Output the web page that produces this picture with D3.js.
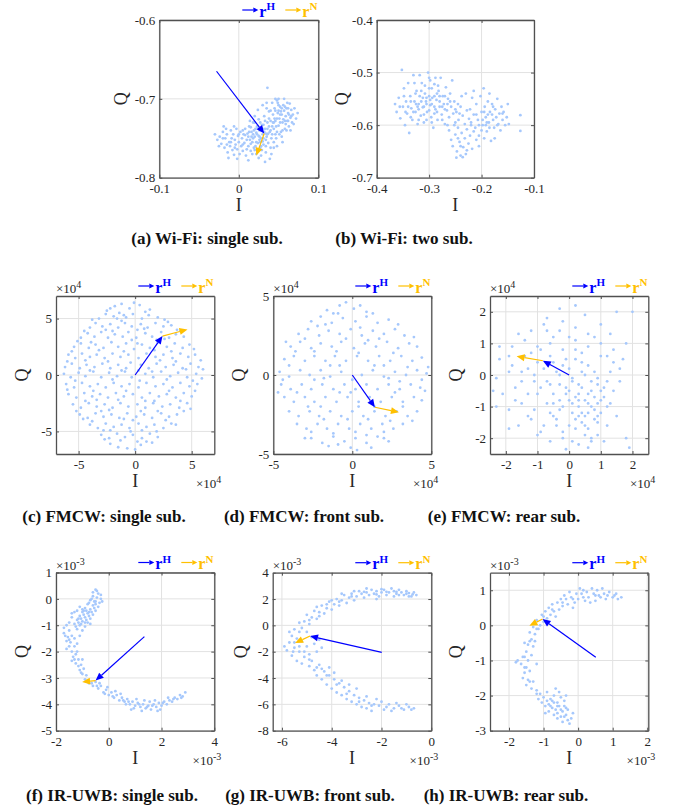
<!DOCTYPE html>
<html>
<head>
<meta charset="utf-8">
<script src="https://cdn.jsdelivr.net/npm/d3@7"></script>
<style>
body { margin: 0; background: #fff; }
svg text { font-family: "Liberation Serif", "Times New Roman", serif; }
</style>
</head>
<body>
<div id="fig"></div>
<script>
// ---- data (flat x,y pairs) ----
// (a) Wi-Fi single sub, values in 1e-3
var ptsA = [-30,-745,-27,-752,-24,-748,-22,-757,-20,-742,-18,-762,-17,-750,-15,-745,-14,-768,-12,-755,-11,-760,-10,-740,-9,-750,-8,-765,-7,-745,-6,-771,-5,-752,-4,-758,-3,-738,-2,-764,-1,-747,0,-755,1,-770,2,-742,3,-760,4,-750,5,-766,6,-745,7,-756,8,-738,9,-772,10,-752,-25,-760,-19,-735,-13,-775,-16,-738,-6,-735,-2,-776,12,-778,5,-740,
11,-744,12,-760,13,-735,14,-752,15,-766,16,-742,17,-755,18,-730,19,-762,20,-748,21,-738,22,-770,23,-745,24,-756,25,-726,26,-740,27,-762,28,-750,29,-733,30,-745,31,-758,32,-722,33,-738,34,-768,35,-748,36,-730,37,-756,38,-716,39,-742,40,-762,14,-728,17,-770,20,-722,23,-735,26,-752,29,-765,32,-742,35,-712,38,-735,41,-750,16,-748,19,-740,22,-755,25,-747,28,-740,31,-733,34,-752,37,-744,40,-728,24,-736,27,-730,30,-754,33,-728,36,-745,21,-760,18,-750,15,-736,12,-748,28,-772,33,-780,25,-775,35,-705,36,-686,30,-708,24,-714,20,-730,
42,-705,43,-720,44,-738,45,-712,46,-728,47,-750,48,-702,49,-718,50,-734,51,-725,52,-710,53,-742,54,-720,55,-730,56,-708,57,-715,58,-738,59,-722,60,-712,61,-728,62,-718,63,-735,64,-706,65,-724,66,-714,67,-730,68,-720,70,-712,72,-725,74,-718,42,-745,44,-755,46,-700,48,-742,50,-715,52,-730,54,-748,56,-726,58,-710,60,-740,62,-728,45,-725,47,-735,49,-705,51,-745,53,-716,55,-740,57,-700,59,-732,61,-705,63,-720,44,-762,48,-760,41,-770,39,-776,55,-755,65,-740,69,-732,50,-700,43,-730,
22,-743,26,-748,30,-738,34,-744,27,-755,31,-750,18,-745,36,-738,40,-740,44,-730,48,-725,52,-720,46,-715,50,-708,54,-712,58,-728,62,-712,66,-722,40,-715,38,-725,-20,-750,-10,-755,0,-745,5,-758,10,-764,15,-757,20,-765,-15,-758,-5,-762,8,-746,13,-742,28,-760,34,-760,42,-735,46,-745];

// (b) Wi-Fi two sub, values in 1e-3
var ptsB = [-365,-560,-362,-575,-358,-548,-355,-587,-352,-495,-350,-565,-348,-530,-346,-600,-344,-555,-342,-578,-340,-520,-338,-615,-336,-545,-334,-568,-332,-590,-330,-505,-328,-555,-326,-575,-324,-535,-322,-598,-320,-560,-318,-545,-316,-582,-314,-520,-312,-566,-310,-595,-308,-540,-306,-555,-304,-575,-302,-500,-300,-530,-298,-562,-296,-585,-294,-548,-292,-605,-290,-522,-288,-570,-286,-552,-284,-590,-282,-535,-280,-565,-278,-510,-276,-580,-274,-545,-272,-560,-270,-598,-268,-528,-266,-572,-264,-550,-262,-585,-260,-540,-258,-565,-256,-515,-254,-578,-252,-555,-250,-595,
-320,-570,-315,-555,-310,-565,-305,-548,-300,-572,-295,-560,-290,-545,-285,-575,-280,-555,-310,-580,-300,-545,-290,-565,-330,-575,-325,-560,-335,-585,-315,-535,-305,-590,-295,-530,-285,-540,-275,-565,-320,-590,-340,-565,-345,-575,-298,-515,-308,-525,-318,-505,-288,-510,-328,-520,-270,-545,-265,-560,
-262,-610,-258,-628,-255,-640,-250,-618,-247,-650,-245,-605,-242,-632,-240,-658,-238,-615,-235,-642,-232,-625,-230,-655,-228,-608,-225,-635,-222,-620,-218,-645,-215,-612,-210,-628,-236,-661,-248,-662,-252,-600,
-248,-575,-244,-590,-240,-565,-236,-582,-232,-598,-228,-572,-224,-588,-220,-600,-245,-560,-238,-545,-230,-540,
-222,-570,-220,-595,-218,-548,-215,-580,-212,-605,-210,-560,-207,-590,-205,-620,-202,-545,-200,-575,-198,-600,-196,-530,-194,-565,-192,-585,-190,-612,-188,-555,-186,-595,-184,-575,-182,-630,-180,-560,-178,-590,-176,-605,-174,-570,-172,-585,-170,-550,-168,-598,-166,-578,-164,-610,-162,-565,-160,-590,-158,-575,-155,-600,-152,-585,-150,-560,-148,-598,-195,-625,-200,-610,-185,-540,-205,-640,-175,-625,-215,-535,-198,-590,-192,-600,-188,-580,-126,-581,-126,-611,
-305,-560,-298,-552,-312,-548,-322,-565,-290,-578,-280,-545,-270,-570,-260,-555,-250,-570,-242,-578,-295,-595,-335,-555,-348,-545,-356,-565,-326,-540,-300,-510,-283,-525,-275,-590,-265,-600,-190,-595,-180,-580,-195,-575,-185,-605,-205,-600,-170,-600,-160,-578,-178,-565,-210,-580,-240,-640,-228,-648,-245,-625];

// (c) FMCW single sub, values in 1e4
var ptsC = [-1.8,6.1,-1.2,6.3,-0.5,5.9,0.4,6.2,-2.5,5.7,1.3,5.8,
-3.2,5.0,-2.6,5.4,-1.9,5.2,-1.4,5.5,-0.8,5.1,-0.2,5.4,0.6,5.0,1.2,5.3,2.0,5.1,2.6,4.9,-1.6,5.0,-1.0,5.3,
-4.0,4.2,-3.5,4.6,-2.9,4.3,-2.2,4.5,-1.5,4.2,-0.9,4.6,-0.3,4.3,0.5,4.5,1.1,4.2,1.8,4.6,2.5,4.3,3.2,4.4,3.7,4.0,-2.6,4.0,0.2,4.0,
-4.8,3.3,-4.2,3.7,-3.6,3.4,-3.0,3.8,-2.4,3.3,-1.8,3.6,-1.1,3.4,-0.6,3.8,0.1,3.3,0.9,3.7,1.5,3.4,2.3,3.8,3.0,3.3,3.6,3.6,4.3,3.4,-2.0,3.9,1.9,3.1,
-5.4,2.5,-4.8,2.8,-4.1,2.4,-3.5,2.7,-2.8,2.4,-2.1,2.9,-1.5,2.5,-0.8,2.8,-0.1,2.3,0.6,2.7,1.3,2.4,2.0,2.9,2.8,2.5,3.5,2.8,4.2,2.4,4.8,2.7,-3.2,2.2,1.7,2.2,
-5.9,1.8,-5.3,1.5,-4.7,1.9,-4.0,1.6,-3.4,1.8,-2.7,1.5,-2.0,1.9,-1.3,1.6,-0.6,1.8,0.3,1.5,1.0,1.9,1.8,1.6,2.5,1.8,3.3,1.5,4.0,1.9,4.7,1.6,5.3,1.8,-4.4,1.3,3.6,1.2,
-6.2,0.7,-5.6,1.0,-4.9,0.6,-4.3,0.9,-3.6,0.7,-2.9,1.0,-2.2,0.6,-1.5,0.9,-0.8,0.6,0.5,0.9,1.2,0.6,1.9,1.0,2.7,0.7,3.4,0.9,4.2,0.6,4.9,1.0,5.6,0.7,0.3,0.4,
-6.3,0.1,-5.7,-0.2,-5.0,0.2,-4.4,-0.1,-3.7,0.3,-3.0,-0.2,-2.3,0.2,-1.6,-0.1,-0.9,0.3,-0.3,-0.2,0.9,0.1,1.6,-0.2,2.3,0.3,3.1,-0.1,3.8,0.2,4.6,-0.2,5.4,0.1,5.9,-0.3,
-6.1,-0.8,-5.4,-1.1,-4.7,-0.7,-4.0,-1.0,-3.3,-0.8,-2.6,-1.1,-1.9,-0.7,-1.2,-1.0,-0.5,-0.8,0.3,-1.1,1.0,-0.7,1.8,-1.0,2.5,-0.8,3.3,-1.1,4.0,-0.7,4.8,-1.0,5.5,-0.8,
-5.9,-1.7,-5.2,-2.0,-4.5,-1.6,-3.8,-1.9,-3.1,-1.7,-2.4,-2.0,-1.7,-1.6,-1.0,-1.9,-0.2,-1.7,0.6,-2.0,1.3,-1.6,2.1,-1.9,2.8,-1.7,3.6,-2.0,4.3,-1.6,5.0,-1.9,-3.4,-2.2,1.7,-2.3,
-5.5,-2.6,-4.8,-2.9,-4.1,-2.5,-3.4,-2.8,-2.7,-2.6,-2.0,-2.9,-1.3,-2.5,-0.6,-2.8,0.2,-2.6,0.9,-2.9,1.6,-2.5,2.4,-2.8,3.1,-2.6,3.9,-2.9,4.6,-2.5,-2.3,-3.1,0.5,-3.2,
-4.9,-3.5,-4.2,-3.8,-3.5,-3.4,-2.8,-3.7,-2.1,-3.5,-1.4,-3.8,-0.7,-3.4,0.1,-3.7,0.8,-3.5,1.5,-3.8,2.3,-3.4,3.0,-3.7,3.7,-3.5,4.3,-3.2,-1.0,-3.9,
-4.0,-4.4,-3.3,-4.7,-2.6,-4.3,-1.9,-4.6,-1.2,-4.4,-0.5,-4.7,0.3,-4.3,1.0,-4.6,1.7,-4.4,2.5,-4.7,3.2,-4.3,-2.2,-4.9,0.6,-4.9,
-3.0,-5.3,-2.3,-5.6,-1.6,-5.2,-0.9,-5.5,-0.2,-5.3,0.6,-5.6,1.3,-5.2,2.0,-5.5,-1.3,-5.8,0.2,-5.9,
-2.2,-6.1,-0.7,-6.5,0.5,-6.2,-1.5,-6.4,
-2.2,5.9,0.9,5.6,-0.1,6.4,-3.8,4.9,2.9,4.7,-1.2,4.8,0.8,4.1,-4.5,3.9,4.0,3.9,-0.3,3.1,2.6,3.2,-5.1,3.0,-3.9,2.9,0.2,2.8,3.2,2.1,5.2,2.3,-5.6,2.1,-1.0,2.1,2.2,1.3,-2.4,1.2,5.8,1.3,-6.0,1.2,-0.4,1.1,1.5,0.3,4.5,0.5,-1.2,0.4,-4.0,0.4,6.0,0.5,-5.3,-0.5,-2.0,-0.4,0.4,-0.5,2.8,-0.4,5.1,-0.5,-3.7,-1.4,-0.8,-1.4,3.0,-1.4,5.3,-1.4,-6.0,-1.3,-4.4,-2.3,-1.5,-2.2,0.9,-2.3,4.0,-2.3,-5.2,-3.2,-3.0,-3.2,2.0,-3.2,4.9,-3.0,-3.8,-4.1,-0.2,-4.0,2.7,-4.0,-2.8,-4.9,1.9,-5.0,-0.4,-5.0,1.0,-5.9,-2.7,-5.7,3.6,-4.4,-4.6,-3.9,0.0,-6.6,1.5,-6.0];

// (d) FMCW front sub, values in 1e4
var ptsD = [-1.6,4.1,-0.8,4.4,0.1,4.2,0.9,4.0,-1.2,3.9,0.5,4.4,
-2.6,3.4,-2.0,3.7,-1.3,3.3,-0.6,3.6,0.2,3.4,0.9,3.7,1.6,3.3,2.3,3.5,-1.7,3.2,
-3.4,2.6,-2.8,2.9,-2.1,2.5,-1.5,2.8,-0.8,2.6,-0.1,2.9,0.6,2.5,1.3,2.8,2.0,2.6,2.7,2.9,3.3,2.5,-0.4,2.3,1.0,2.2,
-3.9,1.8,-3.3,2.1,-2.6,1.7,-2.0,2.0,-1.3,1.8,-0.7,2.1,0.1,1.7,0.8,2.0,1.5,1.8,2.2,2.1,2.9,1.7,3.6,2.0,4.1,1.8,-2.4,1.5,0.4,1.4,
-4.3,1.0,-3.7,1.2,-3.0,0.9,-2.4,1.2,-1.7,0.9,-1.1,1.2,-0.4,0.9,0.3,1.2,1.0,0.9,1.7,1.2,2.4,0.9,3.1,1.2,3.8,0.9,4.4,1.1,-1.4,0.6,2.0,0.6,
-4.6,0.2,-4.0,-0.1,-3.3,0.3,-2.7,0.0,-2.0,0.3,-1.4,-0.1,-0.7,0.2,0.6,0.0,1.3,0.3,2.0,-0.1,2.7,0.2,3.4,0.0,4.1,0.3,4.7,0.1,-2.4,-0.3,3.0,-0.4,
-4.5,-0.6,-3.9,-0.9,-3.2,-0.6,-2.6,-0.9,-1.9,-0.6,-1.2,-0.9,-0.5,-0.6,0.2,-0.9,0.9,-0.6,1.6,-0.9,2.3,-0.6,3.0,-0.9,3.7,-0.6,4.3,-0.8,-0.8,-1.1,
-4.3,-1.4,-3.7,-1.7,-3.0,-1.4,-2.4,-1.7,-1.7,-1.4,-1.0,-1.7,-0.3,-1.4,0.4,-1.7,1.1,-1.4,1.8,-1.7,2.5,-1.4,3.2,-1.7,3.9,-1.4,4.4,-1.6,-2.0,-2.0,1.4,-2.0,
-4.0,-2.3,-3.4,-2.6,-2.7,-2.3,-2.1,-2.6,-1.4,-2.3,-0.7,-2.6,0.0,-2.3,0.7,-2.6,1.4,-2.3,2.1,-2.6,2.8,-2.3,3.5,-2.6,4.1,-2.3,-0.3,-2.8,2.4,-2.9,
-3.5,-3.1,-2.9,-3.4,-2.2,-3.1,-1.6,-3.4,-0.9,-3.1,-0.2,-3.4,0.5,-3.1,1.2,-3.4,1.9,-3.1,2.6,-3.4,3.2,-3.1,-1.2,-3.7,0.9,-3.8,
-2.6,-4.0,-1.9,-4.3,-1.2,-3.9,-0.5,-4.2,0.2,-4.0,0.9,-4.3,1.6,-3.9,2.3,-4.2,-0.1,-4.6,-1.5,-4.5,1.2,-4.6,0.3,-4.75,
-0.4,4.6,1.3,3.9,-2.2,3.1,0.5,3.0,2.9,3.2,-3.0,2.3,1.7,2.3,3.9,2.4,-3.6,1.5,-1.0,1.5,2.6,1.4,-4.0,0.6,-0.8,0.6,1.4,0.6,3.5,0.5,-4.4,-0.3,-1.8,-0.2,0.0,-0.3,2.3,-0.2,4.4,-0.3,-3.5,-1.1,-0.1,-1.1,2.7,-1.1,-4.7,-1.1,-2.8,-2.0,0.4,-2.0,3.2,-2.0,-1.8,-2.8,1.0,-2.8,3.8,-2.9,-2.6,-3.6,0.2,-3.6,2.0,-3.6,-0.9,-4.4,2.0,-4.0,4.8,0.5,4.6,-1.0,-4.2,2.1,-3.0,-4.0,-0.9,3.9];

// (e) FMCW rear sub, values in 1e4
var ptsE = [-0.3,2.1,0.5,1.9,-0.7,1.8,0.2,2.2,1.5,2.0,-0.2,1.7,
-1.2,1.4,-0.8,1.6,-0.3,1.4,0.2,1.5,0.6,1.3,1.0,1.6,-1.6,1.3,1.3,1.3,-0.5,1.2,
-1.8,0.9,-1.4,1.1,-1.0,0.9,-0.6,1.0,-0.2,0.8,0.2,1.1,0.6,0.9,1.0,1.0,1.4,0.8,-1.2,0.7,0.4,0.7,1.8,1.0,
-2.2,0.5,-1.8,0.3,-1.4,0.6,-1.0,0.4,-0.6,0.6,-0.2,0.3,0.2,0.5,0.6,0.3,1.0,0.6,1.4,0.4,1.7,0.5,-0.4,0.1,0.8,0.1,
-2.3,-0.1,-1.9,0.1,-1.5,-0.2,-1.1,0.0,-0.7,-0.2,-0.3,0.0,0.1,-0.2,0.5,0.0,0.9,-0.1,1.3,0.1,1.6,-0.2,0.3,-0.3,1.1,-0.4,
-2.1,-0.6,-1.7,-0.4,-1.3,-0.6,-0.9,-0.4,-0.5,-0.6,-0.1,-0.4,0.3,-0.6,0.5,-0.8,0.7,-0.5,1.1,-0.7,1.4,-0.5,0.0,-0.8,0.9,-0.9,0.4,-0.4,
-1.9,-1.1,-1.5,-0.9,-1.1,-1.1,-0.7,-0.9,-0.3,-1.1,0.1,-0.9,0.4,-1.2,0.7,-1.0,1.0,-1.2,1.3,-0.9,-0.5,-1.3,0.2,-1.4,0.8,-1.4,
-1.6,-1.6,-1.2,-1.4,-0.8,-1.6,-0.4,-1.4,0.0,-1.6,0.4,-1.5,0.6,-1.7,0.9,-1.5,1.2,-1.6,-0.2,-1.8,0.5,-1.9,
-1.0,-1.9,-0.6,-2.1,-0.2,-2.0,0.3,-2.2,0.7,-2.0,1.1,-2.1,-0.1,-2.35,0.6,-2.3,1.8,-2.0,-1.9,-1.7,
-2.4,-0.5,2.0,2.0,1.9,-2.3,-2.3,-1.0,-2.2,0.9,
0.2,-0.7,0.6,-0.6,0.9,-0.3,0.3,-1.0,-0.1,-0.6,0.5,-1.3,0.8,-1.1,1.0,-0.8,0.1,-1.2,-0.3,-0.8,-0.6,-0.3,-1.0,-0.6,-0.8,0.2,-1.3,0.2,0.0,0.2,0.4,0.4,0.7,-0.2,1.2,-0.2,-0.4,-1.6,0.2,-1.7,
0.0,-0.5,0.3,-0.8,0.6,-0.9,0.8,-0.7,1.2,-1.0,0.3,-1.3,0.6,-1.2,0.9,-1.3,-0.2,-1.0,-0.5,-0.9,0.1,-0.1,0.4,0.1,-0.1,0.5,-0.5,0.4,-0.9,0.8,0.0,1.2,0.8,1.2,-1.5,0.1,-1.7,-0.8,-1.3,-1.3,-0.9,-1.8,0.1,-2.1,0.9,-1.9,1.5,-1.3,1.6,0.2,1.2,0.6,-0.7,1.4,-1.1,-0.2,0.2,0.8,-0.3,-0.3,1.0,-0.5,0.5,-1.6,-0.6,-1.2,0.7,-2.1,-1.9,0.6];

// (f) IR-UWB single sub, values in 1e-3
var ptsF = [-0.5,0.35,-0.4,0.2,-0.6,0.25,-0.3,0.0,-0.45,0.05,-0.6,0.1,-0.35,-0.15,-0.55,-0.1,-0.7,-0.05,-0.4,-0.3,-0.6,-0.25,-0.8,-0.2,-0.5,-0.45,-0.7,-0.4,-0.9,-0.35,-0.6,-0.6,-0.8,-0.55,-1.0,-0.5,-0.7,-0.75,-0.9,-0.7,-1.1,-0.65,-0.8,-0.9,-1.0,-0.85,-1.2,-0.8,-0.9,-1.05,-1.1,-1.0,-1.3,-0.95,-1.0,-1.2,-1.2,-1.15,-1.4,-0.7,-1.5,-0.9,-1.3,-0.5,-1.1,-0.3,-0.95,-0.6,-0.75,-0.65,-0.85,-0.8,-1.05,-0.95,-0.65,-0.5,-0.5,-0.2,-0.3,0.15,-0.25,-0.1,-0.75,-0.15,-1.2,-0.45,-1.4,-0.55,-0.95,-0.45,-0.7,-0.95,-1.15,-0.75,-0.55,-0.35,
-1.6,-1.0,-1.7,-1.3,-1.5,-1.2,-1.4,-1.4,-1.6,-1.6,-1.3,-1.5,-1.5,-1.8,-1.3,-1.8,-1.4,-2.0,-1.2,-2.0,-1.35,-2.2,-1.15,-2.3,-1.25,-2.45,-1.05,-2.5,-1.1,-2.7,-0.95,-2.65,-1.0,-2.85,-0.85,-2.9,-0.9,-3.05,-1.55,-1.45,-1.45,-1.65,-1.2,-1.7,-1.25,-2.1,-1.4,-2.35,-1.0,-2.3,-0.8,-3.1,-1.1,-1.4,-1.7,-1.1,-1.6,-1.9,
-0.75,-3.2,-0.6,-3.3,-0.5,-3.15,-0.4,-3.4,-0.3,-3.3,-0.2,-3.55,-0.1,-3.45,0.0,-3.65,0.1,-3.55,0.2,-3.75,0.3,-3.65,0.4,-3.85,0.5,-3.75,0.6,-3.9,0.7,-3.8,0.8,-4.0,0.9,-3.9,1.0,-4.05,1.1,-3.95,1.2,-4.1,1.3,-4.0,1.4,-4.15,1.5,-4.05,1.6,-4.2,1.7,-4.0,1.8,-4.1,1.9,-3.95,2.0,-4.05,2.1,-3.9,2.2,-4.0,2.3,-3.85,2.4,-3.9,2.5,-3.75,2.6,-3.8,2.7,-3.65,2.8,-3.7,2.9,-3.55,0.85,-4.2,1.25,-4.25,1.55,-3.9,1.95,-4.2,0.45,-3.6,-0.05,-3.35,1.75,-3.85,1.05,-3.8,2.25,-3.75,-0.35,-3.2,0.25,-3.5,1.35,-3.85,1.85,-4.25,0.65,-4.0,
-0.45,0.3,-0.65,0.0,-0.85,-0.45,-1.05,-0.75,-1.25,-1.05,-0.5,-0.1,-0.75,-0.5,-1.0,-0.4,-0.9,-0.9,-1.15,-0.9,-1.65,-1.4,-1.5,-1.55,-1.3,-2.3,-1.15,-2.55,-1.05,-2.8,-0.65,-3.2,-0.45,-3.3,-0.15,-3.6,0.15,-3.7,0.55,-3.85,0.95,-4.15,1.45,-4.1,1.65,-4.05,2.05,-3.95,2.45,-3.8,2.75,-3.75,0.75,-3.9,1.15,-4.0];

// (g) IR-UWB front sub, values in 1e-3
var ptsG = [-0.6,2.3,-0.7,2.5,-0.8,2.2,-0.9,2.45,-1.0,2.6,-1.1,2.3,-1.2,2.5,-1.3,2.7,-1.4,2.4,-1.5,2.6,-1.6,2.8,-1.7,2.5,-1.8,2.3,-1.9,2.7,-2.0,2.5,-2.1,2.2,-2.2,2.6,-2.3,2.4,-2.4,2.7,-2.5,2.3,-2.6,2.5,-2.7,2.1,-2.8,2.4,-2.9,2.6,-3.0,2.2,-3.1,1.9,-3.2,2.4,-3.3,2.1,-3.4,1.7,-3.5,2.3,-3.6,1.9,-3.7,1.5,-3.8,2.0,-3.9,1.6,-4.0,1.2,-4.1,1.8,-4.2,1.3,-4.3,0.9,-4.4,1.5,-4.5,1.0,-4.6,0.5,-4.7,1.1,-4.8,0.6,-4.9,0.1,-5.0,0.8,-5.1,0.3,-5.2,-0.2,-1.3,2.3,-2.0,2.75,-2.6,2.8,-1.5,2.2,-0.9,2.2,-3.1,2.6,-3.6,2.4,-2.2,2.0,-4.6,1.4,-4.0,1.9,
-5.3,0.2,-5.5,-0.3,-5.6,-0.8,-5.4,-1.0,-5.7,-1.3,-5.2,-1.2,-5.5,-1.7,-5.8,-1.9,-5.3,-2.0,-5.6,-2.3,-5.1,-2.4,-5.4,-2.7,-4.9,-2.2,-5.0,-1.6,-4.8,-0.9,-4.7,-1.4,-5.0,-0.5,-4.6,-2.0,-5.7,-0.5,-5.2,-2.9,-4.8,-2.7,-4.5,-1.1,-4.4,-1.7,-5.9,-1.6,
-4.9,-3.1,-4.7,-3.4,-4.5,-3.0,-4.6,-3.8,-4.3,-3.5,-4.4,-4.1,-4.1,-3.8,-4.2,-4.5,-3.9,-4.1,-4.0,-4.8,-3.7,-4.4,-3.8,-5.1,-3.5,-4.7,-3.6,-5.3,-3.3,-5.0,-3.4,-5.6,-3.1,-5.3,-3.2,-5.8,-2.9,-5.5,-3.0,-6.0,-2.7,-5.7,-2.8,-6.2,-2.5,-5.9,-2.6,-6.3,-2.3,-6.0,-2.4,-6.5,-2.1,-6.1,-1.9,-6.4,-1.7,-6.0,-1.5,-6.3,-1.3,-6.1,-1.1,-6.4,-0.9,-6.2,-0.8,-6.4,-1.0,-6.0,-1.6,-6.5,-2.0,-5.8,-3.9,-3.6,-4.1,-3.2,-3.6,-4.2,-3.0,-4.8,-2.6,-5.4,-2.2,-5.6,-1.4,-5.9,-4.4,-3.3,-3.3,-4.5,
-1.0,2.4,-1.4,2.55,-1.8,2.55,-2.2,2.35,-2.7,2.55,-3.2,2.2,-3.7,1.8,-4.2,1.6,-4.5,0.7,-4.9,0.4,-5.3,-0.5,-5.5,-1.3,-5.3,-1.6,-5.1,-2.0,-4.9,-2.6,-4.6,-3.2,-4.2,-3.8,-3.8,-4.5,-3.4,-5.2,-2.9,-5.8,-2.4,-6.1,-1.8,-6.2,-1.2,-6.3,-0.7,-6.3,-0.75,2.35,-5.55,-2.0];

// (h) IR-UWB rear sub, values in 1e-3
var ptsH = [1.25,0.8,1.15,0.75,1.1,0.9,1.0,0.8,0.9,0.95,0.8,0.75,0.75,0.9,0.7,1.05,0.6,0.85,0.55,1.0,0.5,0.7,0.45,0.9,0.4,1.05,0.3,0.8,0.25,0.95,0.2,0.7,0.1,0.9,0.05,1.05,0.0,0.75,-0.05,0.9,-0.1,0.65,-0.2,0.8,-0.25,0.95,-0.3,0.6,-0.35,0.75,-0.45,0.55,-0.5,0.75,-0.55,0.45,-0.6,0.65,-0.7,0.4,-0.75,0.6,-0.8,0.3,-0.85,0.5,-0.9,0.2,-0.95,0.4,-1.0,0.1,-1.05,0.3,-1.1,0.0,-0.4,0.85,0.15,1.0,0.65,0.8,-0.15,0.5,0.35,0.65,-0.65,0.25,
-1.15,-0.1,-1.2,0.15,-1.25,-0.25,-1.3,-0.05,-1.35,-0.4,-1.4,-0.2,-1.45,-0.55,-1.3,-0.6,-1.5,-0.75,-1.35,-0.85,-1.6,-0.9,-1.45,-1.0,-1.65,-1.1,-1.5,-1.2,-1.75,-1.0,-1.55,-1.35,-1.4,-1.3,-1.6,-1.5,-1.45,-1.55,-1.3,-1.6,-1.5,-1.7,-1.35,-1.8,-1.2,-1.85,-1.8,-1.05,-1.25,-0.45,-1.55,-0.5,-1.2,-1.1,
-1.1,-1.95,-1.0,-2.05,-0.9,-1.9,-0.8,-2.1,-0.7,-2.0,-0.6,-2.2,-0.5,-2.05,-0.4,-2.15,-0.35,-2.0,-1.05,-2.2,-0.95,-2.3,-0.85,-2.25,-0.75,-2.35,-0.65,-2.4,-0.55,-2.3,-0.45,-2.45,-0.4,-2.3,-0.7,-2.55,-0.6,-2.5,-0.5,-2.6,-0.35,-2.55,-0.3,-2.7,-0.2,-2.65,-0.25,-2.8,-0.45,-2.75,-0.85,-2.45,-0.55,-1.9,-0.3,-2.4,-0.75,-2.15,-0.6,-2.65,-1.15,-2.1,-0.95,-2.5,-0.15,-2.5,-0.65,-1.8,
1.05,0.85,0.85,0.85,0.5,0.85,0.15,0.8,-0.15,0.75,-0.45,0.65,-0.75,0.45,-1.0,0.25,-1.2,-0.1,-1.4,-0.45,-1.55,-0.9,-1.55,-1.2,-1.4,-1.6,-1.2,-1.95,-0.9,-2.15,-0.6,-2.3,-0.5,-2.4,-0.4,-2.6,-0.8,-2.3,-0.7,-2.2,-0.35,-2.35];

// arrows: [x0, y0, x1, y1] in the same units as the points
var arrowsH = { a: [-28,-665,32,-744], c: [0,0,2.42,3.45], d: [0,0,1.43,-2.04], e: [0,0,-0.83,0.45],
                f: [1.35,-1.43,-0.5,-3.1], g: [-1.99,-2.05,-4.87,-0.81], h: [0.51,-0.91,-1.03,0.18] };
var arrowsN = { a: [32,-744,22,-772], c: [2.42,3.45,4.63,4.04], d: [1.43,-2.04,2.95,-2.36], e: [-0.83,0.45,-1.66,0.59],
                f: [-0.5,-3.1,-1.01,-3.15], g: [-4.87,-0.81,-5.47,-1.34], h: [-1.03,0.18,-1.41,-0.01] };

var xTicks = { a: [-0.1,0,0.1], b: [-0.4,-0.3,-0.2,-0.1], c: [-5,0,5], d: [-5,0,5], e: [-2,-1,0,1,2],
               f: [-2,0,2,4], g: [-6,-4,-2,0], h: [-2,-1,0,1,2] };
var yTicks = { a: [-0.8,-0.7,-0.6], b: [-0.7,-0.6,-0.5,-0.4], c: [-5,0,5], d: [-5,0,5], e: [-2,-1,0,1,2],
               f: [-5,-4,-3,-2,-1,0,1], g: [-8,-6,-4,-2,0,2,4], h: [-3,-2,-1,0,1] };

var captions = { a: "(a) Wi-Fi: single sub.", b: "(b) Wi-Fi: two sub.",
                 c: "(c) FMCW: single sub.", d: "(d) FMCW: front sub.", e: "(e) FMCW: rear sub.",
                 f: "(f) IR-UWB: single sub.", g: "(g) IR-UWB: front sub.", h: "(h) IR-UWB: rear sub." };

// ---- layout ----
var panels = [
  {key:'a', box:[159.3,20,159,157.7], xdom:[-0.1,0.1], ydom:[-0.8,-0.6], pts:ptsA, k:0.001, exp:null, qOff:39, cap:[207,244]},
  {key:'b', box:[376.7,20,157.3,157.7], xdom:[-0.4,-0.1], ydom:[-0.7,-0.4], pts:ptsB, k:0.001, exp:null, qOff:35, cap:[404,244]},
  {key:'c', box:[56,296,158.3,158], xdom:[-7,7], ydom:[-7,7], pts:ptsC, k:1, exp:'4', qOff:34, cap:[104,522]},
  {key:'d', box:[273.3,296,158,158], xdom:[-5,5], ydom:[-5,5], pts:ptsD, k:1, exp:'4', qOff:35, cap:[304,522]},
  {key:'e', box:[490,296,158.3,158], xdom:[-2.5,2.5], ydom:[-2.5,2.5], pts:ptsE, k:1, exp:'4', qOff:34, cap:[504,522]},
  {key:'f', box:[56,572.5,158.3,158.2], xdom:[-2,4], ydom:[-5,1], pts:ptsF, k:1, exp:'-3', qOff:34, cap:[112,801]},
  {key:'g', box:[272.7,572.7,158.6,158], xdom:[-6.37,0], ydom:[-8,4], pts:ptsG, k:1, exp:'-3', qOff:32, cap:[310,801]},
  {key:'h', box:[490,572.7,158.3,158], xdom:[-2.55,2.03], ydom:[-3,1.5], pts:ptsH, k:1, exp:'-3', qOff:34, cap:[506,801]}
];

var blue = "#0000ff", gold = "#ffc000", dotColor = "#a6c8fc", axisColor = "#505050", textColor = "#262626";

var svg = d3.select("#fig").append("svg")
    .attr("width", 678)
    .attr("height", 810);

function arrow(g, x0, y0, x1, y1, c, len, hw, sw) {
    var dx = x1 - x0, dy = y1 - y0, L = Math.sqrt(dx * dx + dy * dy);
    var ux = dx / L, uy = dy / L;
    var bx = x1 - ux * len, by = y1 - uy * len;
    g.append("line")
        .attr("x1", x0).attr("y1", y0).attr("x2", bx).attr("y2", by)
        .attr("stroke", c).attr("stroke-width", sw);
    g.append("polygon")
        .attr("points", [[x1, y1], [bx - uy * hw, by + ux * hw], [bx + uy * hw, by - ux * hw]].map(function(p) { return p.join(","); }).join(" "))
        .attr("fill", c);
}

function expLabel(g, xx, yy, anchor, e) {
    var t = g.append("text")
        .attr("x", xx).attr("y", yy)
        .attr("text-anchor", anchor)
        .attr("font-size", 13)
        .attr("fill", textColor);
    t.append("tspan").text("×10");
    t.append("tspan").attr("dy", -5).attr("font-size", 10).text(e);
}

function legend(g, R, T) {
    [{c: blue, s: "H", x0: R - 76}, {c: gold, s: "N", x0: R - 33}].forEach(function(it) {
        arrow(g, it.x0, T - 10, it.x0 + 16, T - 10, it.c, 5, 2.5, 1.2);
        var t = g.append("text")
            .attr("x", it.x0 + 17).attr("y", T - 3.5)
            .attr("fill", it.c)
            .attr("font-weight", "bold")
            .attr("font-size", 16);
        t.append("tspan").text("r");
        t.append("tspan").attr("dy", -6.5).attr("font-size", 11).text(it.s);
    });
}

function styleAxis(sel) {
    sel.attr("font-size", 13)
        .attr("font-family", "'Liberation Serif', serif")
        .attr("color", axisColor);
    sel.select(".domain").attr("stroke-width", 1.3);
    sel.selectAll("text").attr("fill", textColor);
}

panels.forEach(function(p) {
    var bx = p.box[0], by = p.box[1], bw = p.box[2], bh = p.box[3];
    var x = d3.scaleLinear().domain(p.xdom).range([bx, bx + bw]);
    var y = d3.scaleLinear().domain(p.ydom).range([by + bh, by]);
    var xt = xTicks[p.key], yt = yTicks[p.key];
    var g = svg.append("g").attr("class", "panel-" + p.key);

    // grid
    g.selectAll(".gx").data(xt).enter().append("line")
        .attr("x1", function(d) { return x(d); }).attr("x2", function(d) { return x(d); })
        .attr("y1", by).attr("y2", by + bh)
        .attr("stroke", "#e2e2e2").attr("stroke-width", 1);
    g.selectAll(".gy").data(yt).enter().append("line")
        .attr("x1", bx).attr("x2", bx + bw)
        .attr("y1", function(d) { return y(d); }).attr("y2", function(d) { return y(d); })
        .attr("stroke", "#e2e2e2").attr("stroke-width", 1);

    // scatter
    var pairs = d3.range(p.pts.length / 2).map(function(i) { return [p.pts[2 * i] * p.k, p.pts[2 * i + 1] * p.k]; });
    g.selectAll(".pt").data(pairs).enter().append("circle")
        .attr("cx", function(d) { return x(d[0]); })
        .attr("cy", function(d) { return y(d[1]); })
        .attr("r", 1.4)
        .attr("fill", dotColor);

    // arrows (yellow under blue)
    if (arrowsN[p.key]) {
        var an = arrowsN[p.key], ah = arrowsH[p.key];
        arrow(g, x(an[0] * p.k), y(an[1] * p.k), x(an[2] * p.k), y(an[3] * p.k), gold, 8, 3.5, 1.2);
        arrow(g, x(ah[0] * p.k), y(ah[1] * p.k), x(ah[2] * p.k), y(ah[3] * p.k), blue, 8, 3.5, 1.2);
        legend(g, bx + bw, by);
    }

    // axes
    var fmt = function(d) { return String(d); };
    g.append("g").attr("transform", "translate(0," + (by + bh) + ")")
        .call(d3.axisBottom(x).tickValues(xt).tickFormat(fmt).tickSize(-3).tickSizeOuter(0).tickPadding(6))
        .call(styleAxis);
    g.append("g").attr("transform", "translate(" + bx + ",0)")
        .call(d3.axisLeft(y).tickValues(yt).tickFormat(fmt).tickSize(-3).tickSizeOuter(0).tickPadding(4))
        .call(styleAxis);
    g.append("g").attr("transform", "translate(0," + by + ")")
        .call(d3.axisTop(x).tickValues(xt).tickFormat("").tickSize(-3).tickSizeOuter(0))
        .call(styleAxis);
    g.append("g").attr("transform", "translate(" + (bx + bw) + ",0)")
        .call(d3.axisRight(y).tickValues(yt).tickFormat("").tickSize(-3).tickSizeOuter(0))
        .call(styleAxis);

    // axis titles
    g.append("text")
        .attr("x", bx + bw / 2).attr("y", by + bh + 33)
        .attr("text-anchor", "middle")
        .attr("font-size", 18)
        .attr("fill", textColor)
        .text("I");
    g.append("text")
        .attr("transform", "translate(" + (bx - p.qOff) + "," + (by + bh / 2) + ") rotate(-90)")
        .attr("text-anchor", "middle")
        .attr("dy", "0.35em")
        .attr("font-size", 18)
        .attr("fill", textColor)
        .text("Q");

    if (p.exp) {
        expLabel(g, bx, by - 3, "start", p.exp);
        expLabel(g, bx + bw + 7, by + bh + 34, "end", p.exp);
    }

    // caption
    svg.append("text")
        .attr("x", p.cap[0]).attr("y", p.cap[1])
        .attr("text-anchor", "middle")
        .attr("font-size", 17)
        .attr("font-weight", "bold")
        .attr("fill", "#111")
        .text(captions[p.key]);
});
</script>
</body>
</html>
